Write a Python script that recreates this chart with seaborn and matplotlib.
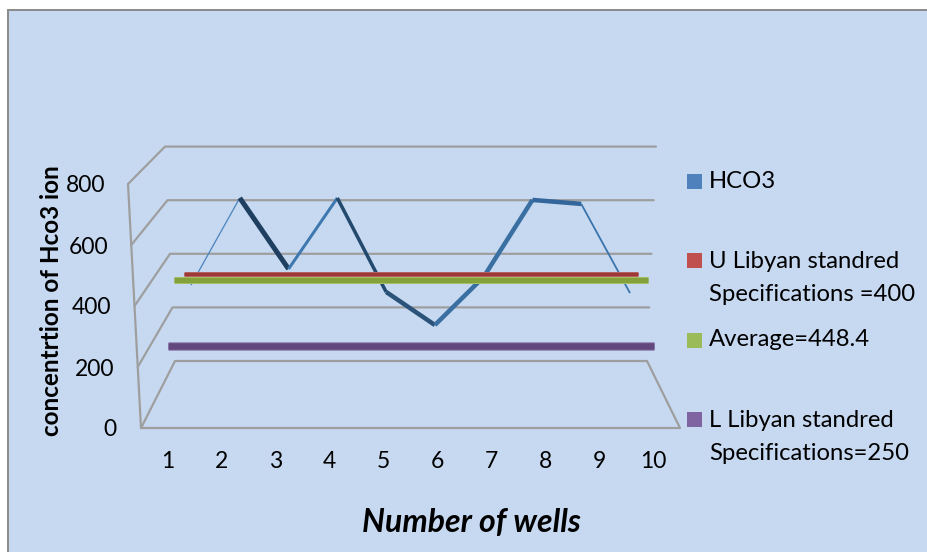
import numpy as np
import pandas as pd
import matplotlib
matplotlib.use("Agg")
import matplotlib.pyplot as plt
from matplotlib.patches import Rectangle
import seaborn as sns

sns.set_theme(style="white")
plt.rcParams["font.family"] = ["Lato", "DejaVu Sans"]

# values
wells = [1, 2, 3, 4, 5, 6, 7, 8, 9, 10]
hco3 = [360, 668, 417, 668, 336, 219, 389, 661, 647, 332]
upper_limit = [400] * 10
average = [448.4] * 10
lower_limit = [250] * 10
value_ticks = [0, 200, 400, 600, 800]

legend_names = ["HCO3", "U Libyan standred\nSpecifications =400", "Average=448.4",
                "L Libyan standred\nSpecifications=250"]
legend_colors = ["#4F81BD", "#C0504D", "#9BBB59", "#8064A2"]

PANEL = "#C6D9F1"
GRID = "#9E9E9E"
PX = 0.72  # one pixel in points at dpi 100


# fake 3D box of the chart, everything ends up in image pixels
def front_y(v):
    return 428 - 0.305 * np.asarray(v, dtype=float)


def back_y(v):
    return 361 - 0.268 * np.asarray(v, dtype=float)


def series_frame(values, x_left, x_right, y_zero, scale):
    w = np.asarray(wells, dtype=float)
    px = x_left + (w - 1) * (x_right - x_left) / 9
    py = y_zero - scale * np.asarray(values, dtype=float)
    return pd.DataFrame({"px": px, "py": py})


fig = plt.figure(figsize=(9.27, 5.52), dpi=100, facecolor="white")
ax = fig.add_axes([0, 0, 1, 1])
ax.set_xlim(0, 927)
ax.set_ylim(552, 0)
ax.axis("off")

# panel, only top and left border show up in the crop
ax.add_patch(Rectangle((8, 10), 925, 550, facecolor=PANEL, edgecolor="none", zorder=0))
ax.plot([8, 8, 927], [552, 10, 10], color="#8C8C8C", lw=2 * PX, zorder=1, solid_joinstyle="miter")

# walls and floor
for v in value_ticks:
    fx = 141 - 13 * v / 800
    bx = 175 - 10 * v / 800
    rx = 647 + 9 * v / 800
    ax.plot([fx, bx, rx], [front_y(v), back_y(v), back_y(v)], color=GRID, lw=2.2 * PX, zorder=2)
ax.plot([128, 141, 680, 647], [front_y(800), front_y(0), front_y(0), back_y(0)],
        color=GRID, lw=2.2 * PX, zorder=2)

# HCO3 ribbon changes width and shade along the way
hco3_df = series_frame(hco3, 191, 630, 387, 0.283)
seg_width = [1.3, 5, 3, 3.5, 4.5, 4.5, 4.5, 4.5, 1.8]
seg_color = ["#4F86BE", "#1F3F60", "#3F78AE", "#234A6E", "#2B5379",
             "#3A6FA2", "#3A6FA2", "#33669A", "#3A74AD"]
for i in range(9):
    sns.lineplot(data=hco3_df.iloc[i:i + 2], x="px", y="py", ax=ax, estimator=None, sort=False,
                 color=seg_color[i], linewidth=seg_width[i] * PX, zorder=3,
                 solid_capstyle="butt", legend=False)

# flat reference lines, they sit in front of the HCO3 ribbon
flat_red = series_frame(upper_limit, 184, 638, 383, 0.2725)
flat_green = series_frame(average, 174, 648, 407, 0.284)
flat_purple = series_frame(lower_limit, 168, 654, 413, 0.268)
for df, col, edge, w in [(flat_red, "#9C3A37", "#B5605C", 5),
                         (flat_green, "#84A23C", "#A5BE63", 7),
                         (flat_purple, "#62487C", "#8F78AC", 8.5)]:
    sns.lineplot(data=df, x="px", y="py", ax=ax, estimator=None, sort=False, color=edge,
                 linewidth=w * PX, zorder=4, solid_capstyle="butt", legend=False)
    sns.lineplot(data=df, x="px", y="py", ax=ax, estimator=None, sort=False, color=col,
                 linewidth=(w - 2) * PX, zorder=5, solid_capstyle="butt", legend=False)

# tick labels, the value labels follow the tilted front edge
TICK_SIZE = 16.5
for v in value_ticks:
    ax.text(117 - 12 * v / 800, front_y(v) + 2, str(v), ha="right", va="center",
            fontsize=TICK_SIZE, color="black")
for w in wells:
    ax.text(141 + (w - 0.5) * 53.9, 461, str(w), ha="center", va="center", fontsize=TICK_SIZE, color="black")

ax.text(52, 301, "concentrtion of Hco3 ion", rotation=90, ha="center", va="center",
        fontsize=17.5, fontweight="bold", color="black")
ax.text(471, 522, "Number of wells", ha="center", va="center", fontsize=23,
        fontweight="bold", fontstyle="italic", color="black")

# legend by hand, spacing in the original is not even
for name, col, sq_top, text_y in zip(legend_names, legend_colors, [174, 253, 333, 412],
                                     [181, 278, 340, 437]):
    ax.add_patch(Rectangle((687, sq_top), 15, 15, facecolor=col, edgecolor="none", zorder=6))
    ax.text(709, text_y, name, ha="left", va="center", fontsize=17.2, color="black", linespacing=1.65)

fig.savefig("out.png", dpi=100, facecolor="white")
